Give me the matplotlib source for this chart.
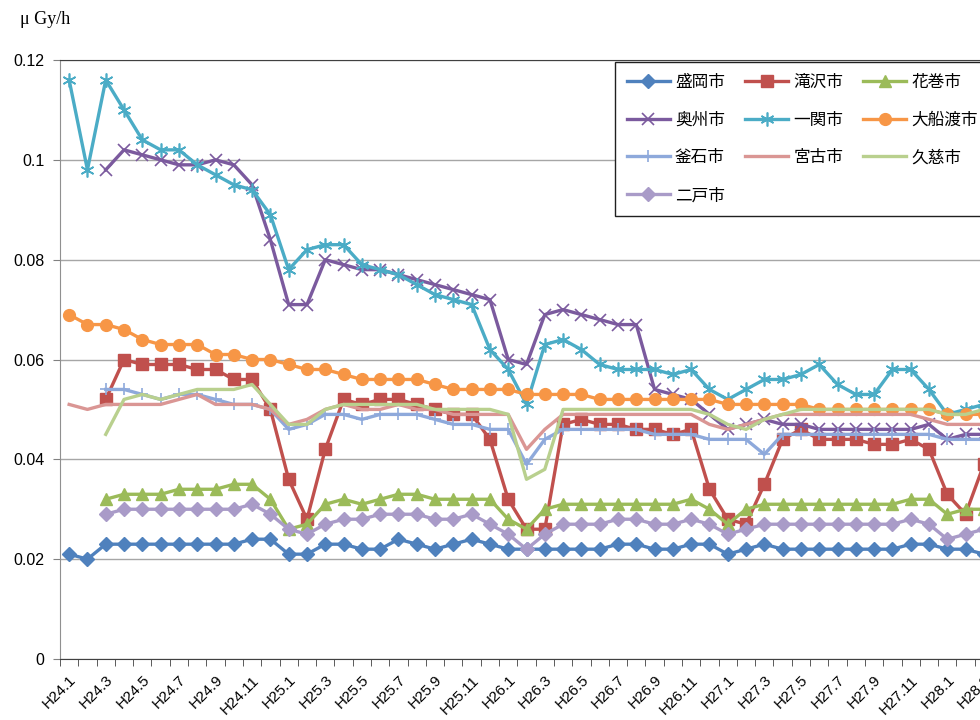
import matplotlib
matplotlib.use("Agg")
import matplotlib.pyplot as plt
import numpy as np

plt.rcParams['font.family'] = ['Noto Sans CJK JP', 'DejaVu Sans']

# months H24.1 .. H28.3
months = ["H%d.%d" % (y, m) for y in range(24, 29) for m in range(1, 13)][:51]

morioka = [0.021, 0.020, 0.023, 0.023, 0.023, 0.023, 0.023, 0.023, 0.023, 0.023, 0.024, 0.024,
           0.021, 0.021, 0.023, 0.023, 0.022, 0.022, 0.024, 0.023, 0.022, 0.023, 0.024, 0.023,
           0.022, 0.022, 0.022, 0.022, 0.022, 0.022, 0.023, 0.023, 0.022, 0.022, 0.023, 0.023,
           0.021, 0.022, 0.023, 0.022, 0.022, 0.022, 0.022, 0.022, 0.022, 0.022, 0.023, 0.023,
           0.022, 0.022, 0.021]
takizawa = [None, None, 0.052, 0.060, 0.059, 0.059, 0.059, 0.058, 0.058, 0.056, 0.056, 0.050,
            0.036, 0.028, 0.042, 0.052, 0.051, 0.052, 0.052, 0.051, 0.050, 0.049, 0.049, 0.044,
            0.032, 0.026, 0.026, 0.047, 0.048, 0.047, 0.047, 0.046, 0.046, 0.045, 0.046, 0.034,
            0.028, 0.027, 0.035, 0.044, 0.046, 0.044, 0.044, 0.044, 0.043, 0.043, 0.044, 0.042,
            0.033, 0.029, 0.039]
hanamaki = [None, None, 0.032, 0.033, 0.033, 0.033, 0.034, 0.034, 0.034, 0.035, 0.035, 0.032,
            0.026, 0.027, 0.031, 0.032, 0.031, 0.032, 0.033, 0.033, 0.032, 0.032, 0.032, 0.032,
            0.028, 0.026, 0.030, 0.031, 0.031, 0.031, 0.031, 0.031, 0.031, 0.031, 0.032, 0.030,
            0.027, 0.030, 0.031, 0.031, 0.031, 0.031, 0.031, 0.031, 0.031, 0.031, 0.032, 0.032,
            0.029, 0.030, 0.030]
oshu = [None, None, 0.098, 0.102, 0.101, 0.100, 0.099, 0.099, 0.100, 0.099, 0.095, 0.084,
        0.071, 0.071, 0.080, 0.079, 0.078, 0.078, 0.077, 0.076, 0.075, 0.074, 0.073, 0.072,
        0.060, 0.059, 0.069, 0.070, 0.069, 0.068, 0.067, 0.067, 0.054, 0.053, 0.052, 0.049,
        0.046, 0.047, 0.048, 0.047, 0.047, 0.046, 0.046, 0.046, 0.046, 0.046, 0.046, 0.047,
        0.044, 0.045, 0.045]
ichinoseki = [0.116, 0.098, 0.116, 0.110, 0.104, 0.102, 0.102, 0.099, 0.097, 0.095, 0.094, 0.089,
              0.078, 0.082, 0.083, 0.083, 0.079, 0.078, 0.077, 0.075, 0.073, 0.072, 0.071, 0.062,
              0.058, 0.051, 0.063, 0.064, 0.062, 0.059, 0.058, 0.058, 0.058, 0.057, 0.058, 0.054,
              0.052, 0.054, 0.056, 0.056, 0.057, 0.059, 0.055, 0.053, 0.053, 0.058, 0.058, 0.054,
              0.049, 0.050, 0.051]
ofunato = [0.069, 0.067, 0.067, 0.066, 0.064, 0.063, 0.063, 0.063, 0.061, 0.061, 0.060, 0.060,
           0.059, 0.058, 0.058, 0.057, 0.056, 0.056, 0.056, 0.056, 0.055, 0.054, 0.054, 0.054,
           0.054, 0.053, 0.053, 0.053, 0.053, 0.052, 0.052, 0.052, 0.052, 0.052, 0.052, 0.052,
           0.051, 0.051, 0.051, 0.051, 0.051, 0.050, 0.050, 0.050, 0.050, 0.050, 0.050, 0.050,
           0.049, 0.049, 0.049]
kamaishi = [None, None, 0.054, 0.054, 0.053, 0.052, 0.053, 0.053, 0.052, 0.051, 0.051, 0.050,
            0.046, 0.047, 0.049, 0.049, 0.048, 0.049, 0.049, 0.049, 0.048, 0.047, 0.047, 0.046,
            0.046, 0.039, 0.044, 0.046, 0.046, 0.046, 0.046, 0.046, 0.045, 0.045, 0.045, 0.044,
            0.044, 0.044, 0.041, 0.045, 0.045, 0.045, 0.045, 0.045, 0.045, 0.045, 0.045, 0.045,
            0.044, 0.044, 0.044]
miyako = [0.051, 0.050, 0.051, 0.051, 0.051, 0.051, 0.052, 0.053, 0.051, 0.051, 0.051, 0.050,
          0.047, 0.048, 0.050, 0.051, 0.050, 0.050, 0.051, 0.050, 0.050, 0.049, 0.049, 0.049,
          0.049, 0.042, 0.046, 0.049, 0.049, 0.049, 0.049, 0.049, 0.049, 0.049, 0.049, 0.047,
          0.046, 0.047, 0.048, 0.049, 0.049, 0.049, 0.049, 0.049, 0.049, 0.049, 0.049, 0.048,
          0.047, 0.047, 0.047]
kuji = [None, None, 0.045, 0.052, 0.053, 0.052, 0.053, 0.054, 0.054, 0.054, 0.055, 0.051,
        0.047, 0.047, 0.050, 0.051, 0.051, 0.051, 0.051, 0.051, 0.050, 0.050, 0.050, 0.050,
        0.049, 0.036, 0.038, 0.050, 0.050, 0.050, 0.050, 0.050, 0.050, 0.050, 0.050, 0.049,
        0.047, 0.046, 0.048, 0.049, 0.050, 0.050, 0.050, 0.050, 0.050, 0.050, 0.050, 0.050,
        0.049, 0.049, 0.050]
ninohe = [None, None, 0.029, 0.030, 0.030, 0.030, 0.030, 0.030, 0.030, 0.030, 0.031, 0.029,
          0.026, 0.025, 0.027, 0.028, 0.028, 0.029, 0.029, 0.029, 0.028, 0.028, 0.029, 0.027,
          0.025, 0.022, 0.025, 0.027, 0.027, 0.027, 0.028, 0.028, 0.027, 0.027, 0.028, 0.027,
          0.025, 0.026, 0.027, 0.027, 0.027, 0.027, 0.027, 0.027, 0.027, 0.027, 0.028, 0.027,
          0.024, 0.025, 0.026]

series = [
    ("盛岡市", morioka, "#4F81BD", "D", 7),
    ("滝沢市", takizawa, "#C0504D", "s", 8.5),
    ("花巻市", hanamaki, "#9BBB59", "^", 8),
    ("奥州市", oshu, "#7B5A9E", "x", 8),
    ("一関市", ichinoseki, "#4BACC6", (6, 2, 0), 10),
    ("大船渡市", ofunato, "#F79646", "o", 8.5),
    ("釜石市", kamaishi, "#8EA9DB", "+", 9),
    ("宮古市", miyako, "#DA9694", None, 0),
    ("久慈市", kuji, "#B9D08E", None, 0),
    ("二戸市", ninohe, "#A99BC8", "D", 7),
]

fig = plt.figure(figsize=(9.8, 7.2), dpi=100)
ax = fig.add_axes([60 / 980, 61 / 720, 933 / 980, 599 / 720])

x = np.arange(len(months))
handles = {}
for name, vals, col, mk, ms in series:
    y = np.array([np.nan if v is None else v for v in vals], dtype=float)
    kw = dict(color=col, lw=2.4, label=name)
    if mk is not None:
        kw.update(marker=mk, markersize=ms, markerfacecolor=col, markeredgecolor=col,
                  markeredgewidth=1.0 if mk not in ("x", "+", (6, 2, 0)) else 1.2)
    ln, = ax.plot(x, y, **kw)
    handles[name] = ln

ax.set_xlim(-0.5, len(months) - 0.5)
ax.set_ylim(0, 0.12)
ax.set_yticks(np.arange(0, 0.121, 0.02))
ax.set_yticklabels(["0", "0.02", "0.04", "0.06", "0.08", "0.1", "0.12"],
                   fontsize=11.5, family=['Liberation Sans', 'DejaVu Sans'])
ax.yaxis.grid(True, color="#A6A6A6", lw=1)
ax.set_axisbelow(True)

ax.set_xticks(x[::2])
ax.set_xticklabels(months[::2], rotation=45, ha="right", rotation_mode="anchor",
                   fontsize=11, family=['Liberation Sans', 'DejaVu Sans'])
ax.set_xticks(np.arange(-0.5, len(months), 1), minor=True)
ax.tick_params(axis="x", which="major", length=0, pad=10)
ax.tick_params(axis="x", which="minor", length=5, color="#404040", direction="out")
ax.tick_params(axis="y", length=5, color="#808080", pad=6)

ax.spines["right"].set_visible(False)
ax.spines["left"].set_color("#909090")
ax.spines["bottom"].set_color("#404040")
ax.spines["top"].set_color("#404040")

order = ["盛岡市", "奥州市", "釜石市", "二戸市", "滝沢市", "一関市", "宮古市", "花巻市", "大船渡市", "久慈市"]
leg = ax.legend([handles[n] for n in order], order, ncol=3, loc="upper left",
                bbox_to_anchor=(615 / 980, 1 - 62 / 720), bbox_transform=fig.transFigure,
                borderaxespad=0, fancybox=False, edgecolor="#202020", framealpha=1,
                fontsize=12, handlelength=2.6, columnspacing=1.2, labelspacing=1.25,
                borderpad=0.7, handletextpad=0.3)
leg.get_frame().set_linewidth(1.0)

fig.text(20 / 980, 1 - 20 / 720, "μ Gy/h", fontsize=13, va="center", ha="left",
         family=['Liberation Serif', 'DejaVu Serif'])

fig.savefig("out.png", dpi=100)
